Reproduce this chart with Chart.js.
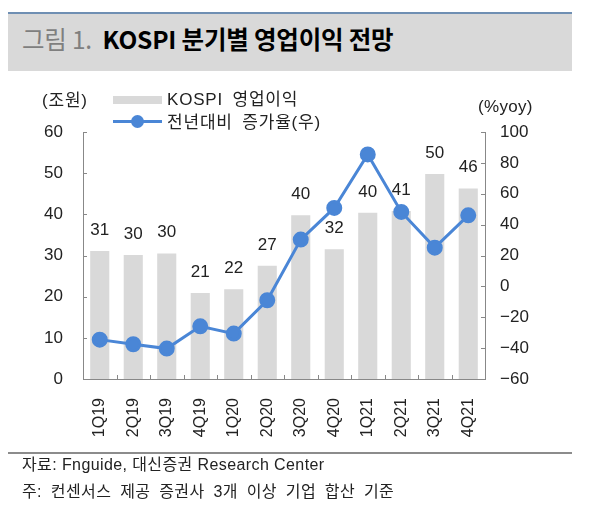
<!DOCTYPE html>
<html>
<head>
<meta charset="utf-8">
<script src="https://cdn.jsdelivr.net/npm/chart.js@4.4.1/dist/chart.umd.min.js"></script>
<style>
  body { margin: 0; background: #fff; font-family: 'Liberation Sans', 'Noto Sans CJK KR', sans-serif; }
  #wrap { position: relative; width: 590px; height: 524px; overflow: hidden; }
  #chart { position: absolute; left: 0; top: 0; }
  .abs { position: absolute; white-space: nowrap; line-height: 1; }
  #header { position: absolute; left: 8px; top: 12px; width: 564px; height: 59px; background: #d9d9d9; border-top: 2px solid #6f8fb3; box-sizing: border-box; }
  #title { left: 22px; top: 27px; font-size: 24.5px; font-family: 'Noto Sans CJK KR', sans-serif; letter-spacing: -0.2px; }
  #title .fig { color: #7f7f7f; }
  #title .main { color: #000; font-weight: bold; }
  .lbl { font-size: 17px; color: #222; letter-spacing: 0.8px; word-spacing: 4px; }
  #foot-line { position: absolute; left: 8px; top: 452px; width: 564px; height: 2px; background: #8c8c8c; }
  .foot { font-size: 16px; color: #222; left: 22px; letter-spacing: 0.4px; }
</style>
</head>
<body>
<div id="wrap">
  <div id="header"></div>
  <div id="title" class="abs"><span class="fig">그림 1.&nbsp;</span> <span class="main">KOSPI 분기별 영업이익 전망</span></div>
  <canvas id="chart" width="590" height="524"></canvas>
  <div class="abs lbl" style="left:42px; top:92px;">(조원)</div>
  <div style="position:absolute; left:113px; top:96px; width:49px; height:8px; background:#d9d9d9;"></div>
  <div class="abs lbl" style="left:167px; top:91px;">KOSPI 영업이익</div>
  <div style="position:absolute; left:113px; top:120px; width:49px; height:3px; background:#4a86d6;"></div>
  <div style="position:absolute; left:131px; top:115px; width:13px; height:13px; border-radius:50%; background:#4a86d6;"></div>
  <div class="abs lbl" style="left:167px; top:114px;">전년대비 증가율(우)</div>
  <div class="abs lbl" style="left:478px; top:98px; letter-spacing:0.3px;">(%yoy)</div>
  <div id="foot-line"></div>
  <div class="abs foot" style="top:457px;">자료: Fnguide, 대신증권 Research Center</div>
  <div class="abs foot" style="top:484px; word-spacing:4px;">주: 컨센서스 제공 증권사 3개 이상 기업 합산 기준</div>
</div>
<script>
const quarters = ['1Q19', '2Q19', '3Q19', '4Q19', '1Q20', '2Q20', '3Q20', '4Q20', '1Q21', '2Q21', '3Q21', '4Q21'];
const opProfit = [31.1, 30.1, 30.5, 20.9, 21.8, 27.5, 39.8, 31.5, 40.4, 40.8, 49.8, 46.3];
const profitLabels = ['31', '30', '30', '21', '22', '27', '40', '32', '40', '41', '50', '46'];
const yoyGrowth = [-34.5, -37.5, -40.3, -25.9, -30.6, -9.0, 30.3, 50.8, 85.5, 48.2, 25.1, 46.0];
const leftTicks = [0, 10, 20, 30, 40, 50, 60];
const rightTicks = [-60, -40, -20, 0, 20, 40, 60, 80, 100];

const FONT = "'Liberation Sans', 'Noto Sans CJK KR', sans-serif";
const blue = '#4a86d6';

// inward tick marks on all three axes
const tickMarks = {
    id: 'tickMarks',
    afterDraw(chart) {
        const ctx = chart.ctx;
        const a = chart.chartArea;
        const x = chart.scales.x, y = chart.scales.y, y1 = chart.scales.y1;
        ctx.save();
        ctx.strokeStyle = '#888';
        ctx.lineWidth = 1;
        ctx.beginPath();
        leftTicks.forEach(v => {
            const py = Math.round(y.getPixelForValue(v)) + 0.5;
            ctx.moveTo(a.left, py); ctx.lineTo(a.left + 4, py);
        });
        rightTicks.forEach(v => {
            const py = Math.round(y1.getPixelForValue(v)) + 0.5;
            ctx.moveTo(a.right, py); ctx.lineTo(a.right - 4, py);
        });
        const step = x.getPixelForValue(1) - x.getPixelForValue(0);
        for (let i = 1; i < quarters.length; i++) {
            const px = Math.round(x.getPixelForValue(i) - step / 2) + 0.5;
            ctx.moveTo(px, a.bottom); ctx.lineTo(px, a.bottom - 4);
        }
        ctx.stroke();
        ctx.restore();
    }
};

// value labels above the bars
const barLabels = {
    id: 'barLabels',
    afterDatasetsDraw(chart) {
        const ctx = chart.ctx;
        const meta = chart.getDatasetMeta(0);
        ctx.save();
        ctx.font = '17px ' + FONT;
        ctx.fillStyle = '#222';
        ctx.textAlign = 'center';
        ctx.textBaseline = 'alphabetic';
        meta.data.forEach((bar, i) => {
            ctx.fillText(profitLabels[i], bar.x, bar.y - 16);
        });
        ctx.restore();
    }
};

new Chart(document.getElementById('chart').getContext('2d'), {
    type: 'bar',
    data: {
        labels: quarters,
        datasets: [
            {
                type: 'bar',
                label: 'KOSPI 영업이익',
                data: opProfit,
                backgroundColor: '#d9d9d9',
                barPercentage: 0.57,
                categoryPercentage: 1,
                yAxisID: 'y',
                order: 2
            },
            {
                type: 'line',
                label: '전년대비 증가율(우)',
                data: yoyGrowth,
                borderColor: blue,
                backgroundColor: blue,
                borderWidth: 3,
                pointRadius: 6.5,
                pointBackgroundColor: blue,
                pointBorderColor: blue,
                yAxisID: 'y1',
                order: 1
            }
        ]
    },
    options: {
        responsive: false,
        animation: false,
        layout: { padding: { top: 132, bottom: 0, left: 0, right: 0 } },
        plugins: { legend: { display: false }, tooltip: { enabled: false } },
        scales: {
            x: {
                grid: { display: false },
                border: { display: true, color: '#888' },
                ticks: { minRotation: 90, maxRotation: 90, padding: 11, color: '#222', font: { size: 16, family: FONT } },
                afterFit(s) { s.height = 145; }
            },
            y: {
                position: 'left',
                min: 0, max: 60,
                grid: { display: false },
                border: { display: true, color: '#888' },
                ticks: { stepSize: 10, padding: 12, color: '#222', font: { size: 17, family: FONT } },
                afterFit(s) { s.width = 83; }
            },
            y1: {
                position: 'right',
                min: -60, max: 100,
                grid: { display: false },
                border: { display: true, color: '#888' },
                ticks: {
                    stepSize: 20, padding: 7, color: '#222', font: { size: 17, family: FONT },
                    callback: v => v < 0 ? '\u2212' + Math.abs(v) : v
                },
                afterFit(s) { s.width = 105; }
            }
        }
    },
    plugins: [tickMarks, barLabels]
});
</script>
</body>
</html>
